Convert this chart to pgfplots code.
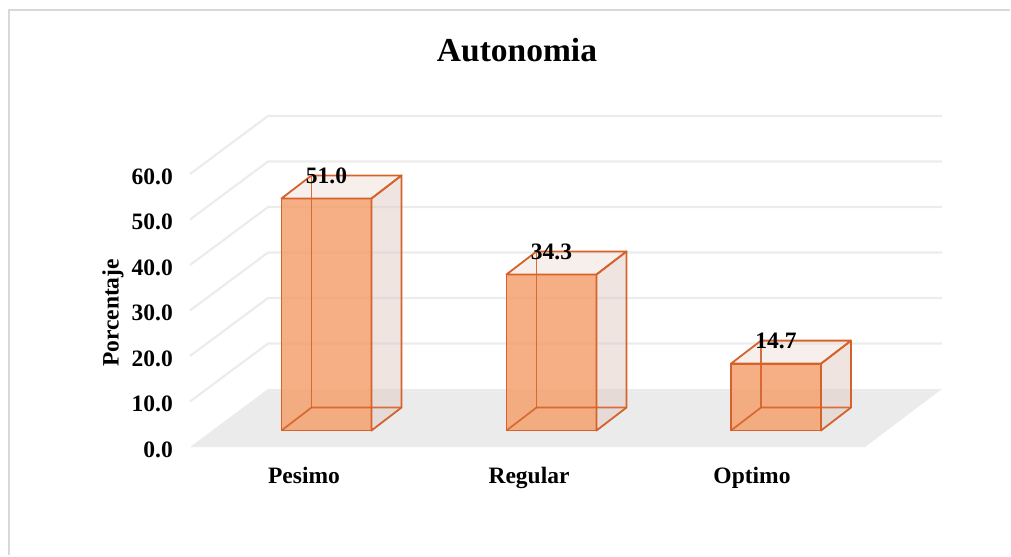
\documentclass[border=0pt]{standalone}
\usepackage{fontspec}
\setmainfont{Liberation Serif}
\usepackage{pgfplots}
\pgfplotsset{compat=1.18}
\definecolor{edge}{RGB}{213,98,42}
\definecolor{front}{RGB}{245,160,110}
\definecolor{side}{RGB}{225,205,198}
\definecolor{topc}{RGB}{235,215,205}
\definecolor{gridc}{RGB}{236,236,236}
\definecolor{floorc}{RGB}{235,235,235}
\definecolor{framec}{RGB}{217,217,217}
\newcommand{\lbl}{\fontsize{23.5}{28}\selectfont\bfseries}
\newcommand{\ttl}{\fontsize{33.5}{40}\selectfont\bfseries}
% gridline k (value 10k): front-left wall point to back wall
\newcommand{\gridline}[1]{%
 \draw[gridc, line width=2.2pt] (axis cs:190,{-3.63+10*#1}) -- (axis cs:268,{9.12+10*#1}) -- (axis cs:942,{9.12+10*#1});}
\newcommand{\ticklab}[2]{%
 \node[anchor=east, font=\lbl, inner sep=0pt] at (axis cs:173,{-3.63+10*#1-0.6}) {#2};}
% 3D parts of a bar: left x of front face, value
\newcommand{\barparts}[2]{%
 \filldraw[fill=side, fill opacity=0.55, draw=edge, line width=1.8pt, line join=round] (axis cs:{#1+90},0) -- (axis cs:{#1+120},5.055) -- (axis cs:{#1+120},{#2+5.055}) -- (axis cs:{#1+90},#2) -- cycle;
 \filldraw[fill=topc, fill opacity=0.4, draw=edge, line width=1.8pt, line join=round] (axis cs:#1,#2) -- (axis cs:{#1+30},{#2+5.055}) -- (axis cs:{#1+120},{#2+5.055}) -- (axis cs:{#1+90},#2) -- cycle;
 \draw[edge, draw opacity=0.9, line width=1.7pt] (axis cs:#1,0) -- (axis cs:{#1+30},5.055) -- (axis cs:{#1+120},5.055);
 \draw[edge, draw opacity=0.9, line width=1.7pt] (axis cs:{#1+30},5.055) -- (axis cs:{#1+30},{#2+5.055});
 \node[font=\lbl] at (axis cs:{#1+45},{#2+5.055}) {#2};}
\begin{document}
\begin{tikzpicture}
\begin{axis}[
 scale only axis, width=1011pt, height=556pt,
 xmin=0, xmax=1011, ymin=-27.58, ymax=94.615,
 hide axis, clip=false,
]
\path (rel axis cs:0,0) rectangle (rel axis cs:1,1);
% frame
\draw[framec, line width=2pt] (axis cs:8.5,-27.3) -- (axis cs:8.5,92.42) -- (axis cs:1010,92.42);
% floor
\fill[floorc] (axis cs:190,-3.63) -- (axis cs:865,-3.63) -- (axis cs:942,9.12) -- (axis cs:268,9.12) -- cycle;
% gridlines
\gridline{1}\gridline{2}\gridline{3}\gridline{4}\gridline{5}\gridline{6}
% front faces
\addplot[ybar, bar width=90pt, fill=front, fill opacity=0.85, draw=edge, line width=1.8pt] coordinates {(326.5,51.0) (551.5,34.3) (776,14.7)};
% side and top faces, hidden edges, value labels
\barparts{281.5}{51.0}
\barparts{506.5}{34.3}
\barparts{731}{14.7}
% tick labels
\ticklab{0}{0.0}\ticklab{1}{10.0}\ticklab{2}{20.0}\ticklab{3}{30.0}\ticklab{4}{40.0}\ticklab{5}{50.0}\ticklab{6}{60.0}
% category labels
\node[font=\lbl, anchor=base] at (axis cs:304,-11.6) {Pesimo};
\node[font=\lbl, anchor=base] at (axis cs:529,-11.6) {Regular};
\node[font=\lbl, anchor=base] at (axis cs:752,-11.6) {Optimo};
% axis title
\node[rotate=90, font=\lbl] at (axis cs:113,25.82) {Porcentaje};
% chart title
\node[font=\ttl] at (axis cs:517,83.63) {Autonomia};
\end{axis}
\end{tikzpicture}
\end{document}
